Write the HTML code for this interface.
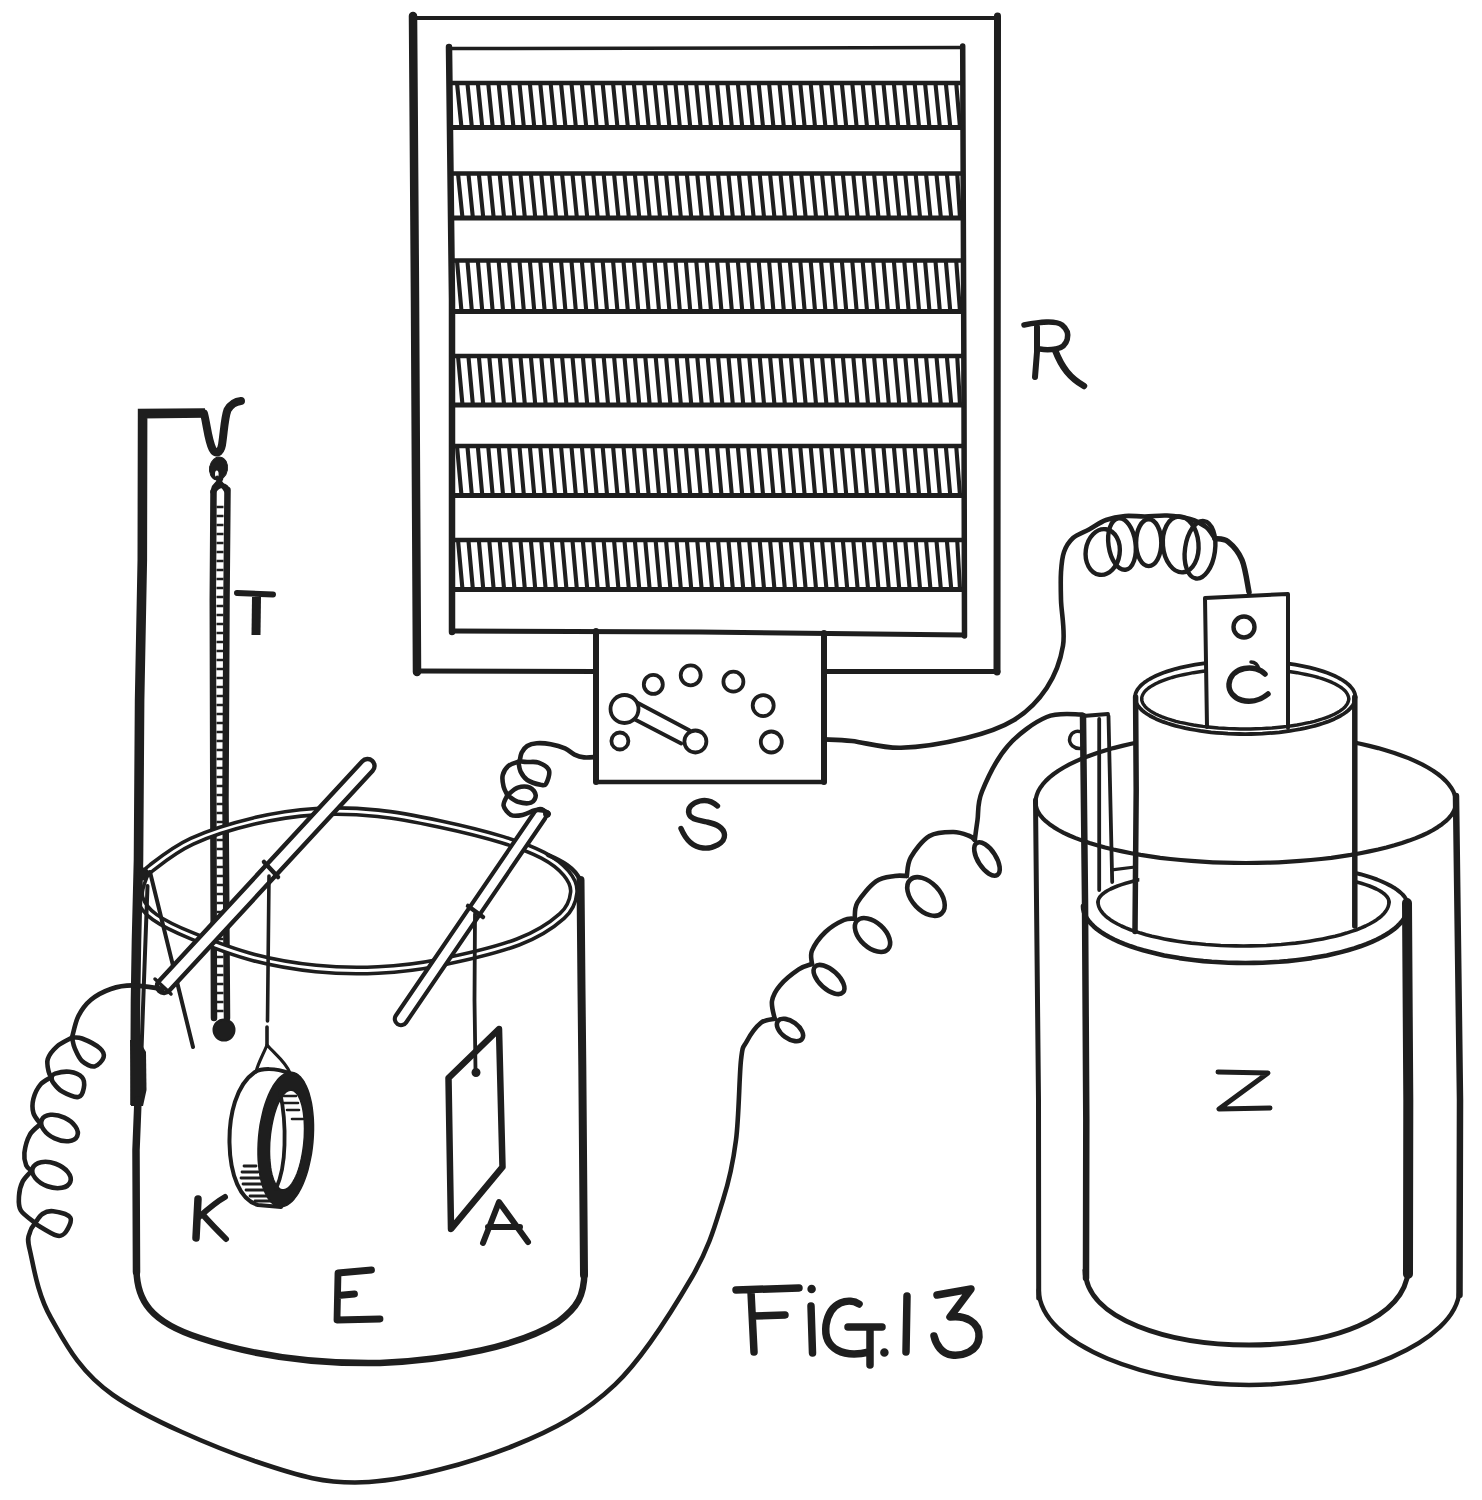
<!DOCTYPE html>
<html><head><meta charset="utf-8"><style>
html,body{margin:0;padding:0;background:#fff;}
svg{display:block;}
</style></head><body>
<svg width="1482" height="1500" viewBox="0 0 1482 1500">
<rect width="1482" height="1500" fill="#fff"/>
<g fill="none" stroke="#1e1e1e" stroke-linecap="round" stroke-linejoin="round">
<path d="M413 18 L998 18" stroke-width="3.8"/>
<path d="M596 671.5 L417 671" stroke-width="5"/>
<path d="M998 671.5 L824 671.5" stroke-width="5"/>
<path d="M413 16 L415 300 L417 672" stroke-width="8.5"/>
<path d="M997.5 16 L997 672" stroke-width="7"/>
<path d="M449 48.5 L963 47.5" stroke-width="3.5"/>
<path d="M452 631 L700 632 L964 635" stroke-width="5"/>
<path d="M449 47 L452 300 L452 632" stroke-width="6.5"/>
<path d="M962.7 46 L964 400 L964.5 636" stroke-width="5.5"/>
<path d="M452 83 L962 83" stroke-width="4.6"/>
<path d="M452 127.5 L962 127.5" stroke-width="5"/>
<path d="M457.0 83 L461.5 127.5 M467.4 83 L471.9 127.5 M477.8 83 L482.3 127.5 M488.2 83 L492.7 127.5 M498.6 83 L503.1 127.5 M509.0 83 L513.5 127.5 M519.4 83 L523.9 127.5 M529.8 83 L534.3 127.5 M540.2 83 L544.7 127.5 M550.6 83 L555.1 127.5 M561.0 83 L565.5 127.5 M571.4 83 L575.9 127.5 M581.8 83 L586.3 127.5 M592.2 83 L596.7 127.5 M602.6 83 L607.1 127.5 M613.0 83 L617.5 127.5 M623.4 83 L627.9 127.5 M633.8 83 L638.3 127.5 M644.2 83 L648.7 127.5 M654.6 83 L659.1 127.5 M665.0 83 L669.5 127.5 M675.4 83 L679.9 127.5 M685.8 83 L690.3 127.5 M696.2 83 L700.7 127.5 M706.6 83 L711.1 127.5 M717.0 83 L721.5 127.5 M727.4 83 L731.9 127.5 M737.8 83 L742.3 127.5 M748.2 83 L752.7 127.5 M758.6 83 L763.1 127.5 M769.0 83 L773.5 127.5 M779.4 83 L783.9 127.5 M789.8 83 L794.3 127.5 M800.2 83 L804.7 127.5 M810.6 83 L815.1 127.5 M821.0 83 L825.5 127.5 M831.4 83 L835.9 127.5 M841.8 83 L846.3 127.5 M852.2 83 L856.7 127.5 M862.6 83 L867.1 127.5 M873.0 83 L877.5 127.5 M883.4 83 L887.9 127.5 M893.8 83 L898.3 127.5 M904.2 83 L908.7 127.5 M914.6 83 L919.1 127.5 M925.0 83 L929.5 127.5 M935.4 83 L939.9 127.5 M945.8 83 L950.3 127.5 M956.2 83 L960.0 127.5 " stroke-width="4.1" stroke-linecap="butt"/>
<path d="M452 173.5 L962 173.5" stroke-width="4.6"/>
<path d="M452 218 L962 218" stroke-width="5"/>
<path d="M458.0 173.5 L462.5 218 M468.4 173.5 L472.9 218 M478.8 173.5 L483.3 218 M489.2 173.5 L493.7 218 M499.6 173.5 L504.1 218 M510.0 173.5 L514.5 218 M520.4 173.5 L524.9 218 M530.8 173.5 L535.3 218 M541.2 173.5 L545.7 218 M551.6 173.5 L556.1 218 M562.0 173.5 L566.5 218 M572.4 173.5 L576.9 218 M582.8 173.5 L587.3 218 M593.2 173.5 L597.7 218 M603.6 173.5 L608.1 218 M614.0 173.5 L618.5 218 M624.4 173.5 L628.9 218 M634.8 173.5 L639.3 218 M645.2 173.5 L649.7 218 M655.6 173.5 L660.1 218 M666.0 173.5 L670.5 218 M676.4 173.5 L680.9 218 M686.8 173.5 L691.3 218 M697.2 173.5 L701.7 218 M707.6 173.5 L712.1 218 M718.0 173.5 L722.5 218 M728.4 173.5 L732.9 218 M738.8 173.5 L743.3 218 M749.2 173.5 L753.7 218 M759.6 173.5 L764.1 218 M770.0 173.5 L774.5 218 M780.4 173.5 L784.9 218 M790.8 173.5 L795.3 218 M801.2 173.5 L805.7 218 M811.6 173.5 L816.1 218 M822.0 173.5 L826.5 218 M832.4 173.5 L836.9 218 M842.8 173.5 L847.3 218 M853.2 173.5 L857.7 218 M863.6 173.5 L868.1 218 M874.0 173.5 L878.5 218 M884.4 173.5 L888.9 218 M894.8 173.5 L899.3 218 M905.2 173.5 L909.7 218 M915.6 173.5 L920.1 218 M926.0 173.5 L930.5 218 M936.4 173.5 L940.9 218 M946.8 173.5 L951.3 218 M957.2 173.5 L960.0 218 " stroke-width="4.1" stroke-linecap="butt"/>
<path d="M452 260.5 L962 260.5" stroke-width="4.6"/>
<path d="M452 311.5 L962 311.5" stroke-width="5"/>
<path d="M457.0 260.5 L461.5 311.5 M467.4 260.5 L471.9 311.5 M477.8 260.5 L482.3 311.5 M488.2 260.5 L492.7 311.5 M498.6 260.5 L503.1 311.5 M509.0 260.5 L513.5 311.5 M519.4 260.5 L523.9 311.5 M529.8 260.5 L534.3 311.5 M540.2 260.5 L544.7 311.5 M550.6 260.5 L555.1 311.5 M561.0 260.5 L565.5 311.5 M571.4 260.5 L575.9 311.5 M581.8 260.5 L586.3 311.5 M592.2 260.5 L596.7 311.5 M602.6 260.5 L607.1 311.5 M613.0 260.5 L617.5 311.5 M623.4 260.5 L627.9 311.5 M633.8 260.5 L638.3 311.5 M644.2 260.5 L648.7 311.5 M654.6 260.5 L659.1 311.5 M665.0 260.5 L669.5 311.5 M675.4 260.5 L679.9 311.5 M685.8 260.5 L690.3 311.5 M696.2 260.5 L700.7 311.5 M706.6 260.5 L711.1 311.5 M717.0 260.5 L721.5 311.5 M727.4 260.5 L731.9 311.5 M737.8 260.5 L742.3 311.5 M748.2 260.5 L752.7 311.5 M758.6 260.5 L763.1 311.5 M769.0 260.5 L773.5 311.5 M779.4 260.5 L783.9 311.5 M789.8 260.5 L794.3 311.5 M800.2 260.5 L804.7 311.5 M810.6 260.5 L815.1 311.5 M821.0 260.5 L825.5 311.5 M831.4 260.5 L835.9 311.5 M841.8 260.5 L846.3 311.5 M852.2 260.5 L856.7 311.5 M862.6 260.5 L867.1 311.5 M873.0 260.5 L877.5 311.5 M883.4 260.5 L887.9 311.5 M893.8 260.5 L898.3 311.5 M904.2 260.5 L908.7 311.5 M914.6 260.5 L919.1 311.5 M925.0 260.5 L929.5 311.5 M935.4 260.5 L939.9 311.5 M945.8 260.5 L950.3 311.5 M956.2 260.5 L960.0 311.5 " stroke-width="4.1" stroke-linecap="butt"/>
<path d="M452 356 L962 356" stroke-width="4.6"/>
<path d="M452 405 L962 405" stroke-width="5"/>
<path d="M458.0 356 L462.5 405 M468.4 356 L472.9 405 M478.8 356 L483.3 405 M489.2 356 L493.7 405 M499.6 356 L504.1 405 M510.0 356 L514.5 405 M520.4 356 L524.9 405 M530.8 356 L535.3 405 M541.2 356 L545.7 405 M551.6 356 L556.1 405 M562.0 356 L566.5 405 M572.4 356 L576.9 405 M582.8 356 L587.3 405 M593.2 356 L597.7 405 M603.6 356 L608.1 405 M614.0 356 L618.5 405 M624.4 356 L628.9 405 M634.8 356 L639.3 405 M645.2 356 L649.7 405 M655.6 356 L660.1 405 M666.0 356 L670.5 405 M676.4 356 L680.9 405 M686.8 356 L691.3 405 M697.2 356 L701.7 405 M707.6 356 L712.1 405 M718.0 356 L722.5 405 M728.4 356 L732.9 405 M738.8 356 L743.3 405 M749.2 356 L753.7 405 M759.6 356 L764.1 405 M770.0 356 L774.5 405 M780.4 356 L784.9 405 M790.8 356 L795.3 405 M801.2 356 L805.7 405 M811.6 356 L816.1 405 M822.0 356 L826.5 405 M832.4 356 L836.9 405 M842.8 356 L847.3 405 M853.2 356 L857.7 405 M863.6 356 L868.1 405 M874.0 356 L878.5 405 M884.4 356 L888.9 405 M894.8 356 L899.3 405 M905.2 356 L909.7 405 M915.6 356 L920.1 405 M926.0 356 L930.5 405 M936.4 356 L940.9 405 M946.8 356 L951.3 405 M957.2 356 L960.0 405 " stroke-width="4.1" stroke-linecap="butt"/>
<path d="M452 446 L962 446" stroke-width="4.6"/>
<path d="M452 495.5 L962 495.5" stroke-width="5"/>
<path d="M457.0 446 L461.5 495.5 M467.4 446 L471.9 495.5 M477.8 446 L482.3 495.5 M488.2 446 L492.7 495.5 M498.6 446 L503.1 495.5 M509.0 446 L513.5 495.5 M519.4 446 L523.9 495.5 M529.8 446 L534.3 495.5 M540.2 446 L544.7 495.5 M550.6 446 L555.1 495.5 M561.0 446 L565.5 495.5 M571.4 446 L575.9 495.5 M581.8 446 L586.3 495.5 M592.2 446 L596.7 495.5 M602.6 446 L607.1 495.5 M613.0 446 L617.5 495.5 M623.4 446 L627.9 495.5 M633.8 446 L638.3 495.5 M644.2 446 L648.7 495.5 M654.6 446 L659.1 495.5 M665.0 446 L669.5 495.5 M675.4 446 L679.9 495.5 M685.8 446 L690.3 495.5 M696.2 446 L700.7 495.5 M706.6 446 L711.1 495.5 M717.0 446 L721.5 495.5 M727.4 446 L731.9 495.5 M737.8 446 L742.3 495.5 M748.2 446 L752.7 495.5 M758.6 446 L763.1 495.5 M769.0 446 L773.5 495.5 M779.4 446 L783.9 495.5 M789.8 446 L794.3 495.5 M800.2 446 L804.7 495.5 M810.6 446 L815.1 495.5 M821.0 446 L825.5 495.5 M831.4 446 L835.9 495.5 M841.8 446 L846.3 495.5 M852.2 446 L856.7 495.5 M862.6 446 L867.1 495.5 M873.0 446 L877.5 495.5 M883.4 446 L887.9 495.5 M893.8 446 L898.3 495.5 M904.2 446 L908.7 495.5 M914.6 446 L919.1 495.5 M925.0 446 L929.5 495.5 M935.4 446 L939.9 495.5 M945.8 446 L950.3 495.5 M956.2 446 L960.0 495.5 " stroke-width="4.1" stroke-linecap="butt"/>
<path d="M452 540 L962 540" stroke-width="4.6"/>
<path d="M452 589.5 L962 589.5" stroke-width="5"/>
<path d="M458.0 540 L462.5 589.5 M468.4 540 L472.9 589.5 M478.8 540 L483.3 589.5 M489.2 540 L493.7 589.5 M499.6 540 L504.1 589.5 M510.0 540 L514.5 589.5 M520.4 540 L524.9 589.5 M530.8 540 L535.3 589.5 M541.2 540 L545.7 589.5 M551.6 540 L556.1 589.5 M562.0 540 L566.5 589.5 M572.4 540 L576.9 589.5 M582.8 540 L587.3 589.5 M593.2 540 L597.7 589.5 M603.6 540 L608.1 589.5 M614.0 540 L618.5 589.5 M624.4 540 L628.9 589.5 M634.8 540 L639.3 589.5 M645.2 540 L649.7 589.5 M655.6 540 L660.1 589.5 M666.0 540 L670.5 589.5 M676.4 540 L680.9 589.5 M686.8 540 L691.3 589.5 M697.2 540 L701.7 589.5 M707.6 540 L712.1 589.5 M718.0 540 L722.5 589.5 M728.4 540 L732.9 589.5 M738.8 540 L743.3 589.5 M749.2 540 L753.7 589.5 M759.6 540 L764.1 589.5 M770.0 540 L774.5 589.5 M780.4 540 L784.9 589.5 M790.8 540 L795.3 589.5 M801.2 540 L805.7 589.5 M811.6 540 L816.1 589.5 M822.0 540 L826.5 589.5 M832.4 540 L836.9 589.5 M842.8 540 L847.3 589.5 M853.2 540 L857.7 589.5 M863.6 540 L868.1 589.5 M874.0 540 L878.5 589.5 M884.4 540 L888.9 589.5 M894.8 540 L899.3 589.5 M905.2 540 L909.7 589.5 M915.6 540 L920.1 589.5 M926.0 540 L930.5 589.5 M936.4 540 L940.9 589.5 M946.8 540 L951.3 589.5 M957.2 540 L960.0 589.5 " stroke-width="4.1" stroke-linecap="butt"/>
<path d="M596 631 L596 782" stroke-width="6"/>
<path d="M824 633 L824 782" stroke-width="6"/>
<path d="M596 782 L824 782" stroke-width="4.5"/>
<circle cx="653.3" cy="684.4" r="9.5" stroke-width="3.8"/>
<circle cx="690.7" cy="675.3" r="10" stroke-width="3.8"/>
<circle cx="733.4" cy="681.7" r="10" stroke-width="3.8"/>
<circle cx="763.2" cy="705.6" r="10.5" stroke-width="3.8"/>
<circle cx="771.3" cy="742" r="10.5" stroke-width="3.8"/>
<circle cx="619.9" cy="741" r="8.5" stroke-width="3.8"/>
<path d="M636 702 L689.3 730.3 M634 719 L681.2 743.5" stroke-width="3.8"/>
<circle cx="624.5" cy="709" r="14" stroke-width="3.8" fill="#fff"/>
<circle cx="695.4" cy="741.5" r="11" stroke-width="3.8" fill="#fff"/>
<path d="M204 413.5 C207 425 208 440 212.5 449 C215.5 455 220.5 453 222 445 C224 432 224.5 418 227.5 410 C231 404 236 401.5 241 401" stroke-width="8"/>
<ellipse cx="218.5" cy="468.5" rx="9" ry="11.5" transform="rotate(10 218.5 468.5)" stroke-width="1" fill="#1e1e1e"/>
<ellipse cx="216.8" cy="474" rx="1.8" ry="3.5" fill="#fff" stroke="none"/>
<path d="M217 478 L223 486 L227 492 M221 479 L214 487 L212.5 492" stroke-width="4.5"/>
<path d="M213.5 492 L212.8 600 L213.3 800 L214 1018" stroke-width="6.5"/>
<path d="M227.5 490 L226.5 600 L225.5 800 L227 1018" stroke-width="6.5"/>
<path d="M213.5 492 Q218 484 224 486 Q228 488 227.5 492" stroke-width="5"/>
<path d="M216.5 507.0 L223.5 507.0 M216.5 516.0 L223.5 516.0 M216.5 525.0 L223.5 525.0 M216.5 534.0 L223.5 534.0 M216.5 543.0 L223.5 543.0 M216.5 552.0 L223.5 552.0 M216.5 561.0 L223.5 561.0 M216.5 570.0 L223.5 570.0 M216.5 579.0 L223.5 579.0 M216.5 588.0 L223.5 588.0 M216.5 597.0 L223.5 597.0 M216.5 606.0 L223.5 606.0 M216.5 615.0 L223.5 615.0 M216.5 624.0 L223.5 624.0 M216.5 633.0 L223.5 633.0 M216.5 642.0 L223.5 642.0 M216.5 651.0 L223.5 651.0 M216.5 660.0 L223.5 660.0 M216.5 669.0 L223.5 669.0 M216.5 678.0 L223.5 678.0 M216.5 687.0 L223.5 687.0 M216.5 696.0 L223.5 696.0 M216.5 705.0 L223.5 705.0 M216.5 714.0 L223.5 714.0 M216.5 723.0 L223.5 723.0 M216.5 732.0 L223.5 732.0 M216.5 741.0 L223.5 741.0 M216.5 750.0 L223.5 750.0 M216.5 759.0 L223.5 759.0 M216.5 768.0 L223.5 768.0 M216.5 777.0 L223.5 777.0 M216.5 786.0 L223.5 786.0 M216.5 795.0 L223.5 795.0 M216.5 804.0 L223.5 804.0 M216.5 813.0 L223.5 813.0 M216.5 822.0 L223.5 822.0 M216.5 831.0 L223.5 831.0 M216.5 840.0 L223.5 840.0 M216.5 849.0 L223.5 849.0 M216.5 858.0 L223.5 858.0 M216.5 867.0 L223.5 867.0 M216.5 876.0 L223.5 876.0 M216.5 885.0 L223.5 885.0 M216.5 894.0 L223.5 894.0 M216.5 903.0 L223.5 903.0 M216.5 912.0 L223.5 912.0 M216.5 921.0 L223.5 921.0 M216.5 930.0 L223.5 930.0 M216.5 939.0 L223.5 939.0 M216.5 948.0 L223.5 948.0 M216.5 957.0 L223.5 957.0 M216.5 966.0 L223.5 966.0 M216.5 975.0 L223.5 975.0 M216.5 984.0 L223.5 984.0 M216.5 993.0 L223.5 993.0 M216.5 1002.0 L223.5 1002.0 M216.5 1011.0 L223.5 1011.0 " stroke-width="2.6" stroke-linecap="butt"/>
<circle cx="224" cy="1030" r="10.5" stroke-width="2" fill="#1e1e1e"/>
<path d="M151.7 867.6 C160.0 861.1 174.9 849.0 192.0 841.2 C209.1 833.4 233.3 825.9 254.0 821.0 C274.7 816.1 295.3 813.0 316.0 811.7 C336.7 810.4 357.3 811.2 378.0 813.3 C398.7 815.4 419.7 819.7 440.4 824.1 C461.1 828.5 485.3 834.5 502.4 839.7 C519.5 844.9 532.2 849.7 542.8 855.2 C553.4 860.8 560.8 866.8 566.0 873.0 C571.2 879.2 574.5 885.2 573.8 892.4 C573.1 899.6 571.3 907.7 562.0 916.0 C552.7 924.3 538.3 934.3 518.0 942.0 C497.7 949.7 463.7 957.6 440.4 962.3 C417.1 967.0 398.7 969.0 378.0 970.0 C357.3 971.0 336.7 970.6 316.0 968.5 C295.3 966.4 274.7 963.0 254.0 957.6 C233.3 952.2 208.5 942.6 192.0 935.9 C175.5 929.2 163.5 923.4 154.8 917.2 C146.1 911.0 141.9 904.8 139.8 898.6 C137.7 892.4 140.4 885.2 142.4 880.0 C144.4 874.8 143.4 874.1 151.7 867.6 Z" stroke-width="10"/>
<path d="M151.7 867.6 C160.0 861.1 174.9 849.0 192.0 841.2 C209.1 833.4 233.3 825.9 254.0 821.0 C274.7 816.1 295.3 813.0 316.0 811.7 C336.7 810.4 357.3 811.2 378.0 813.3 C398.7 815.4 419.7 819.7 440.4 824.1 C461.1 828.5 485.3 834.5 502.4 839.7 C519.5 844.9 532.2 849.7 542.8 855.2 C553.4 860.8 560.8 866.8 566.0 873.0 C571.2 879.2 574.5 885.2 573.8 892.4 C573.1 899.6 571.3 907.7 562.0 916.0 C552.7 924.3 538.3 934.3 518.0 942.0 C497.7 949.7 463.7 957.6 440.4 962.3 C417.1 967.0 398.7 969.0 378.0 970.0 C357.3 971.0 336.7 970.6 316.0 968.5 C295.3 966.4 274.7 963.0 254.0 957.6 C233.3 952.2 208.5 942.6 192.0 935.9 C175.5 929.2 163.5 923.4 154.8 917.2 C146.1 911.0 141.9 904.8 139.8 898.6 C137.7 892.4 140.4 885.2 142.4 880.0 C144.4 874.8 143.4 874.1 151.7 867.6 Z" stroke="#fff" stroke-width="2.8"/>
<path d="M135 1105 L135.5 1000 L136.5 940 L138.5 860 L139.6 700 L142.3 560 L142.6 413.6 L205 413" stroke-width="9.6" stroke-linejoin="miter" stroke-linecap="butt"/>
<path d="M147.5 886 L144 980 L141.5 1050" stroke-width="4"/>
<path d="M130 1040 L139 1040 L146 1052 L146.5 1090 L143 1106 L131 1106 Z" fill="#1e1e1e" stroke="none"/>
<path d="M138 1100 L136 1150 L136.5 1272" stroke-width="7.5"/>
<path d="M548 855 C562 861 575 868 580 880" stroke-width="4.5"/>
<path d="M580.5 880 L581.5 990 L582.3 1065 L584 1275" stroke-width="8"/>
<path d="M136.5 1270 C137 1300 150 1322 200 1338 C260 1358 320 1364 380 1363 C450 1360 520 1346 558 1322 C578 1307 584 1296 584.5 1272" stroke-width="6.5"/>
<path d="M138 874 L150 872 M150 872 L193 1047" stroke-width="4"/>
<path d="M143 874 m-5 0 a5 5 0 1 0 10 0 a5 5 0 1 0 -10 0" stroke-width="3" fill="#1e1e1e"/>
<line x1="164" y1="986" x2="367.5" y2="766" stroke-width="18.5" stroke-linecap="round"/>
<line x1="164" y1="986" x2="367.5" y2="766" stroke-width="9.7" stroke="#fff" stroke-linecap="round"/>
<line x1="401" y1="1019" x2="540" y2="815" stroke-width="16.5" stroke-linecap="round"/>
<line x1="401" y1="1019" x2="540" y2="815" stroke-width="8.3" stroke="#fff" stroke-linecap="round"/>
<path d="M155 979 L171 994" stroke-width="3.5"/>
<path d="M264 862 L278 877" stroke-width="4.5"/>
<path d="M468 906 L483 917" stroke-width="4.5"/>
<path d="M269 876 L267.5 1021 M267 1027 L267 1045" stroke-width="3.6"/>
<path d="M267 1045 C263 1055 258 1063 256 1072 M267 1045 C276 1055 286 1062 290 1073" stroke-width="3.2"/>
<path d="M289 1073 C275 1068 262 1068 255 1072 C236 1085 229 1115 229.5 1143 C230 1175 240 1200 258 1205 L281 1207" stroke-width="4"/>
<path d="M244 1166 L256 1166 M242 1172 L258 1172 M241 1178 L261 1178 M243 1184 L263 1184 M246 1190 L266 1190 M250 1196 L268 1196 M255 1201 L272 1201" stroke-width="2.8"/>
<path d="M312.9 1141.9 L312.3 1147.7 L311.5 1153.5 L310.4 1159.2 L309.2 1164.7 L307.9 1170.1 L306.3 1175.2 L304.6 1180.0 L302.8 1184.5 L300.8 1188.7 L298.7 1192.5 L296.5 1195.9 L294.2 1198.9 L291.9 1201.4 L289.5 1203.5 L287.1 1205.1 L284.7 1206.1 L282.3 1206.7 L279.9 1206.7 L277.5 1206.3 L275.2 1205.3 L273.0 1203.8 L270.9 1201.9 L268.9 1199.4 L267.1 1196.5 L265.4 1193.2 L263.8 1189.5 L262.4 1185.4 L261.2 1180.9 L260.1 1176.1 L259.3 1171.1 L258.7 1165.8 L258.2 1160.3 L258.0 1154.6 L258.0 1148.8 L258.2 1143.0 L258.6 1137.1 L259.2 1131.3 L260.0 1125.5 L261.1 1119.8 L262.3 1114.3 L263.6 1108.9 L265.2 1103.8 L266.9 1099.0 L268.7 1094.5 L270.7 1090.3 L272.8 1086.5 L275.0 1083.1 L277.3 1080.1 L279.6 1077.6 L282.0 1075.5 L284.4 1073.9 L286.8 1072.9 L289.2 1072.3 L291.6 1072.3 L294.0 1072.7 L296.3 1073.7 L298.5 1075.2 L300.6 1077.1 L302.6 1079.6 L304.4 1082.5 L306.1 1085.8 L307.7 1089.5 L309.1 1093.6 L310.3 1098.1 L311.4 1102.9 L312.2 1107.9 L312.8 1113.2 L313.3 1118.7 L313.5 1124.4 L313.5 1130.2 L313.3 1136.0 L312.9 1141.9 Z M303.9 1141.5 L303.5 1145.8 L302.9 1150.1 L302.2 1154.3 L301.4 1158.4 L300.5 1162.4 L299.5 1166.2 L298.4 1169.8 L297.2 1173.2 L295.9 1176.3 L294.5 1179.1 L293.1 1181.7 L291.7 1183.9 L290.2 1185.8 L288.7 1187.3 L287.2 1188.5 L285.6 1189.3 L284.1 1189.7 L282.6 1189.8 L281.2 1189.5 L279.8 1188.8 L278.4 1187.7 L277.1 1186.3 L275.9 1184.5 L274.8 1182.4 L273.7 1180.0 L272.8 1177.2 L271.9 1174.2 L271.2 1170.9 L270.6 1167.4 L270.2 1163.6 L269.8 1159.7 L269.6 1155.6 L269.5 1151.5 L269.6 1147.2 L269.7 1142.9 L270.1 1138.5 L270.5 1134.2 L271.1 1129.9 L271.8 1125.7 L272.6 1121.6 L273.5 1117.6 L274.5 1113.8 L275.6 1110.2 L276.8 1106.8 L278.1 1103.7 L279.5 1100.9 L280.9 1098.3 L282.3 1096.1 L283.8 1094.2 L285.3 1092.7 L286.8 1091.5 L288.4 1090.7 L289.9 1090.3 L291.4 1090.2 L292.8 1090.5 L294.2 1091.2 L295.6 1092.3 L296.9 1093.7 L298.1 1095.5 L299.2 1097.6 L300.3 1100.0 L301.2 1102.8 L302.1 1105.8 L302.8 1109.1 L303.4 1112.6 L303.8 1116.4 L304.2 1120.3 L304.4 1124.4 L304.5 1128.5 L304.4 1132.8 L304.3 1137.1 L303.9 1141.5 Z " fill="#1e1e1e" fill-rule="evenodd" stroke="#1e1e1e" stroke-width="1.5"/>
<path d="M280 1092 C284 1110 285 1130 284.5 1145 C284 1165 280 1180 276 1189" stroke-width="3.8"/>
<path d="M282 1096 L296 1096 M284 1103 L298 1103 M287 1110 L299 1110 M292 1119 L303 1119" stroke-width="2.6"/>
<path d="M475 914 L474.5 1000 L475.5 1070" stroke-width="3.8"/>
<circle cx="476" cy="1072.5" r="3.5" stroke-width="2" fill="#1e1e1e"/>
<path d="M499 1029 L448.5 1078 L451 1229 L502.5 1167 L499 1029 Z" stroke-width="6.5"/>
<path d="M1024 325 C1040 322 1055 320 1062 325 C1072 333 1068 347 1056 349 C1050 350 1045 350 1040 349" stroke-width="5.5"/>
<path d="M1037 327 L1037 352 L1035 377" stroke-width="6"/>
<path d="M1055 350 C1062 368 1070 378 1084 386" stroke-width="6.5"/>
<path d="M717.5 806 C712 801 706 799.5 700 801 C692 803 687 808 689 814 C691 820 700 820 707 822 C716 824 724 827 724.5 835 C725 843 713 849 703 848 C692 847 685 838 681 828.5" stroke-width="5.4"/>
<path d="M237 593 L273 594.5" stroke-width="6"/>
<path d="M256.5 597 L256 635" stroke-width="9" stroke-linecap="butt"/>
<path d="M198 1199 L196 1238" stroke-width="7.5"/>
<path d="M225 1197 C216 1202 208 1209 199 1217 M204 1216 C211 1224 218 1231 226 1239" stroke-width="6"/>
<path d="M483 1243 L499 1202 L528 1242 M488 1227 L520 1227" stroke-width="6"/>
<path d="M371.5 1270 L338 1273 L337 1320 L380 1319 M338 1295.5 L354.5 1294" stroke-width="6.8"/>
<path d="M1218 1072 L1268 1073 L1219 1109 L1270 1108" stroke-width="5"/>
<path d="M736 1290 L799 1288 M751 1292 L754 1352 M753 1316 L785 1315" stroke-width="7.5"/>
<circle cx="811.6" cy="1289" r="3" stroke-width="2.5" fill="#1e1e1e"/>
<path d="M811 1306 L812.5 1353" stroke-width="7.5"/>
<path d="M859 1304 C850 1298 830 1300 826 1325 C823 1350 845 1358 869 1352 M848 1327 L882 1327 M870 1327 L870 1365" stroke-width="7.5"/>
<circle cx="884.4" cy="1352.6" r="3" stroke-width="2.5" fill="#1e1e1e"/>
<path d="M907 1296 L906 1352" stroke-width="7.5"/>
<path d="M937 1295 L971 1289 L950 1317 C965 1315 980 1322 979 1337 C978 1352 962 1356 952 1355 C942 1354 936 1345 934 1336" stroke-width="7.5"/>
<path d="M1035.5 802.5 L1035.8 798.8 L1036.7 795.2 L1038.1 791.5 L1040.1 787.9 L1042.7 784.4 L1045.8 780.9 L1049.5 777.4 L1053.7 774.0 L1058.4 770.7 L1063.7 767.5 L1069.4 764.4 L1075.7 761.4 L1082.4 758.4 L1089.5 755.7 L1097.1 753.0 L1105.1 750.5 L1113.4 748.1 L1122.2 745.9 L1131.2 743.8 L1140.6 741.9 L1150.3 740.1 L1160.2 738.6 L1170.4 737.1 L1180.8 735.9 L1191.3 734.9 L1202.0 734.0 L1212.9 733.4 L1223.8 732.9 L1234.7 732.6 L1245.8 732.5 L1256.8 732.6 L1267.7 732.9 L1278.6 733.4 L1289.5 734.0 L1300.2 734.9 L1310.7 735.9 L1321.1 737.1 L1331.3 738.6 L1341.2 740.1 L1350.9 741.9 L1360.3 743.8 L1369.3 745.9 L1378.1 748.1 L1386.4 750.5 L1394.4 753.0 L1402.0 755.7 L1409.1 758.4 L1415.8 761.4 L1422.1 764.4 L1427.8 767.5 L1433.1 770.7 L1437.8 774.0 L1442.0 777.4 L1445.7 780.9 L1448.8 784.4 L1451.4 787.9 L1453.4 791.5 L1454.8 795.2 L1455.7 798.8 L1456.0 802.5 " stroke-width="4.2"/>
<path d="M1035.5 800 L1038.5 1100 L1038.7 1298" stroke-width="5"/>
<path d="M1456 796 L1460 1100 L1459.5 1295" stroke-width="6.5"/>
<path d="M1038.7 1290 C1040 1346 1150 1385 1249 1385 C1350 1385 1457 1343 1459.5 1290" stroke-width="4.5"/>
<path d="M1245.5 861.0 L1254.0 861.1 L1262.5 861.2 L1270.9 861.6 L1279.3 862.0 L1287.6 862.5 L1295.7 863.2 L1303.7 864.0 L1311.6 864.9 L1319.3 865.9 L1326.8 867.0 L1334.0 868.3 L1341.0 869.6 L1347.8 871.0 L1354.2 872.6 L1360.4 874.2 L1366.3 875.9 L1371.8 877.7 L1377.0 879.5 L1381.8 881.5 L1386.2 883.5 L1390.3 885.6 L1394.0 887.7 L1397.2 889.9 L1400.0 892.1 L1402.5 894.4 L1404.4 896.6 L1406.0 899.0 L1407.1 901.3 L1407.8 903.6 L1408.0 906.0 " stroke-width="4"/>
<path d="M1098.0 902.0 L1098.2 900.3 L1098.8 898.7 L1099.8 897.0 L1101.2 895.3 L1103.0 893.7 L1105.1 892.1 L1107.7 890.5 L1110.6 889.0 L1113.9 887.5 L1117.5 886.0 L1121.5 884.6 L1125.8 883.2 L1130.4 881.9 L1135.4 880.6 L1140.6 879.4 L1146.1 878.2 L1151.9 877.1 L1158.0 876.1 L1164.3 875.2 L1170.8 874.3 L1177.4 873.5 L1184.3 872.8 L1191.4 872.1 L1198.5 871.6 L1205.8 871.1 L1213.2 870.7 L1220.7 870.4 L1228.3 870.2 L1235.9 870.0 L1243.5 870.0 L1251.1 870.0 L1258.7 870.2 L1266.3 870.4 L1273.8 870.7 L1281.2 871.1 L1288.5 871.6 L1295.6 872.1 L1302.7 872.8 L1309.6 873.5 L1316.2 874.3 L1322.7 875.2 L1329.0 876.1 L1335.1 877.1 L1340.9 878.2 L1346.4 879.4 L1351.6 880.6 L1356.6 881.9 L1361.2 883.2 L1365.5 884.6 L1369.5 886.0 L1373.1 887.5 L1376.4 889.0 L1379.3 890.5 L1381.9 892.1 L1384.0 893.7 L1385.8 895.3 L1387.2 897.0 L1388.2 898.7 L1388.8 900.3 L1389.0 902.0 " stroke-width="3.6"/>
<path d="M1083 716 L1085 900 L1086.3 1120 L1086 1278" stroke-width="6.5"/>
<path d="M1407 903 L1408.3 1100 L1408 1274" stroke-width="10"/>
<path d="M1085 1270 C1086 1320 1170 1345 1249 1345 C1330 1345 1406 1320 1408.5 1268" stroke-width="5"/>
<path d="M1099.2 719 L1099.2 890" stroke-width="3.8"/>
<path d="M1108.5 716 L1112.2 882" stroke-width="3.8"/>
<path d="M1083 716 L1108 714" stroke-width="3.8"/>
<path d="M1112 869.9 L1135 867" stroke-width="3.2"/>
<path d="M1083 748 C1074 750 1068 744 1070 737 C1072 731 1078 730 1083 733" stroke-width="3.5"/>
<path d="M1135.0 697.4 L1135.2 695.4 L1135.6 693.5 L1136.4 691.6 L1137.4 689.7 L1138.8 687.9 L1140.4 686.0 L1142.3 684.2 L1144.5 682.4 L1147.0 680.7 L1149.8 679.0 L1152.8 677.4 L1156.0 675.8 L1159.6 674.3 L1163.3 672.8 L1167.3 671.4 L1171.5 670.1 L1175.8 668.8 L1180.4 667.7 L1185.2 666.6 L1190.1 665.6 L1195.2 664.7 L1200.4 663.8 L1205.7 663.1 L1211.1 662.4 L1216.7 661.9 L1222.3 661.5 L1228.0 661.1 L1233.7 660.9 L1239.4 660.7 L1245.2 660.6 L1251.0 660.7 L1256.7 660.9 L1262.4 661.1 L1268.1 661.5 L1273.7 661.9 L1279.3 662.4 L1284.7 663.1 L1290.0 663.8 L1295.2 664.7 L1300.3 665.6 L1305.2 666.6 L1310.0 667.7 L1314.6 668.8 L1318.9 670.1 L1323.1 671.4 L1327.1 672.8 L1330.8 674.3 L1334.4 675.8 L1337.6 677.4 L1340.6 679.0 L1343.4 680.7 L1345.9 682.4 L1348.1 684.2 L1350.0 686.0 L1351.6 687.9 L1353.0 689.7 L1354.0 691.6 L1354.8 693.5 L1355.2 695.4 L1355.4 697.4 L1354.8 931.4 L1351.6 931.4 L1346.4 933.1 L1340.9 934.7 L1335.1 936.2 L1329.0 937.6 L1322.7 938.9 L1316.2 940.1 L1309.6 941.2 L1302.7 942.2 L1295.6 943.1 L1288.5 943.8 L1281.2 944.5 L1273.8 945.0 L1266.3 945.5 L1258.7 945.8 L1251.1 945.9 L1243.5 946.0 L1235.9 945.9 L1228.3 945.8 L1220.7 945.5 L1213.2 945.0 L1205.8 944.5 L1198.5 943.8 L1191.4 943.1 L1184.3 942.2 L1177.4 941.2 L1170.8 940.1 L1164.3 938.9 L1158.0 937.6 L1151.9 936.2 L1146.1 934.7 L1140.6 933.1 Z" fill="#fff" stroke="none"/>
<path d="M1135.0 697.4 L1135.2 695.4 L1135.6 693.5 L1136.4 691.6 L1137.4 689.7 L1138.8 687.9 L1140.4 686.0 L1142.3 684.2 L1144.5 682.4 L1147.0 680.7 L1149.8 679.0 L1152.8 677.4 L1156.0 675.8 L1159.6 674.3 L1163.3 672.8 L1167.3 671.4 L1171.5 670.1 L1175.8 668.8 L1180.4 667.7 L1185.2 666.6 L1190.1 665.6 L1195.2 664.7 L1200.4 663.8 L1205.7 663.1 L1211.1 662.4 L1216.7 661.9 L1222.3 661.5 L1228.0 661.1 L1233.7 660.9 L1239.4 660.7 L1245.2 660.6 L1251.0 660.7 L1256.7 660.9 L1262.4 661.1 L1268.1 661.5 L1273.7 661.9 L1279.3 662.4 L1284.7 663.1 L1290.0 663.8 L1295.2 664.7 L1300.3 665.6 L1305.2 666.6 L1310.0 667.7 L1314.6 668.8 L1318.9 670.1 L1323.1 671.4 L1327.1 672.8 L1330.8 674.3 L1334.4 675.8 L1337.6 677.4 L1340.6 679.0 L1343.4 680.7 L1345.9 682.4 L1348.1 684.2 L1350.0 686.0 L1351.6 687.9 L1353.0 689.7 L1354.0 691.6 L1354.8 693.5 L1355.2 695.4 L1355.4 697.4 " stroke-width="3.8"/>
<path d="M1141.7 698.9 L1141.8 697.3 L1142.3 695.7 L1143.0 694.1 L1144.0 692.6 L1145.2 691.0 L1146.8 689.5 L1148.6 688.0 L1150.6 686.6 L1153.0 685.2 L1155.6 683.8 L1158.4 682.4 L1161.5 681.1 L1164.8 679.9 L1168.3 678.7 L1172.0 677.5 L1175.9 676.4 L1180.1 675.4 L1184.4 674.5 L1188.8 673.6 L1193.5 672.7 L1198.2 672.0 L1203.1 671.3 L1208.1 670.7 L1213.2 670.2 L1218.4 669.7 L1223.7 669.4 L1229.0 669.1 L1234.4 668.9 L1239.8 668.7 L1245.2 668.7 L1250.6 668.7 L1256.0 668.9 L1261.4 669.1 L1266.7 669.4 L1272.0 669.7 L1277.2 670.2 L1282.3 670.7 L1287.3 671.3 L1292.2 672.0 L1297.0 672.7 L1301.6 673.6 L1306.0 674.5 L1310.3 675.4 L1314.5 676.4 L1318.4 677.5 L1322.1 678.7 L1325.6 679.9 L1328.9 681.1 L1332.0 682.4 L1334.8 683.8 L1337.4 685.2 L1339.8 686.6 L1341.8 688.0 L1343.6 689.5 L1345.2 691.0 L1346.4 692.6 L1347.4 694.1 L1348.1 695.7 L1348.6 697.3 L1348.7 698.9 " stroke-width="3.4"/>
<path d="M1207 727 L1205 598 L1288 594 L1288 728 Z" fill="#fff" stroke="none"/>
<path d="M1207 727 L1205 598 L1288 594 L1288 728" stroke-width="4"/>
<circle cx="1244" cy="627" r="10.5" stroke-width="4.4"/>
<path d="M1265 674 C1256 664 1231 666 1229 684 C1228 700 1251 708 1268 694" stroke-width="5.5"/>
<path d="M1251 662 Q1257 662 1259.5 670" stroke-width="3.5"/>
<path d="M1355.4 697.4 L1355.2 699.3 L1354.8 701.2 L1354.0 703.1 L1353.0 705.0 L1351.6 706.8 L1350.0 708.7 L1348.1 710.5 L1345.9 712.3 L1343.4 714.0 L1340.6 715.7 L1337.6 717.3 L1334.4 718.9 L1330.8 720.4 L1327.1 721.9 L1323.1 723.3 L1318.9 724.6 L1314.6 725.9 L1310.0 727.0 L1305.2 728.1 L1300.3 729.1 L1295.2 730.0 L1290.0 730.9 L1284.7 731.6 L1279.3 732.3 L1273.7 732.8 L1268.1 733.2 L1262.4 733.6 L1256.7 733.8 L1251.0 734.0 L1245.2 734.1 L1239.4 734.0 L1233.7 733.8 L1228.0 733.6 L1222.3 733.2 L1216.7 732.8 L1211.1 732.3 L1205.7 731.6 L1200.4 730.9 L1195.2 730.0 L1190.1 729.1 L1185.2 728.1 L1180.4 727.0 L1175.8 725.9 L1171.5 724.6 L1167.3 723.3 L1163.3 721.9 L1159.6 720.4 L1156.0 718.9 L1152.8 717.3 L1149.8 715.7 L1147.0 714.0 L1144.5 712.3 L1142.3 710.5 L1140.4 708.7 L1138.8 706.8 L1137.4 705.0 L1136.4 703.1 L1135.6 701.2 L1135.2 699.3 L1135.0 697.4 " stroke-width="3.8"/>
<path d="M1348.7 698.9 L1348.6 700.4 L1348.1 702.0 L1347.4 703.6 L1346.4 705.1 L1345.2 706.7 L1343.6 708.2 L1341.8 709.7 L1339.8 711.1 L1337.4 712.5 L1334.8 713.9 L1332.0 715.3 L1328.9 716.6 L1325.6 717.8 L1322.1 719.0 L1318.4 720.2 L1314.5 721.3 L1310.3 722.3 L1306.0 723.2 L1301.6 724.1 L1297.0 725.0 L1292.2 725.7 L1287.3 726.4 L1282.3 727.0 L1277.2 727.5 L1272.0 728.0 L1266.7 728.3 L1261.4 728.6 L1256.0 728.8 L1250.6 729.0 L1245.2 729.0 L1239.8 729.0 L1234.4 728.8 L1229.0 728.6 L1223.7 728.3 L1218.4 728.0 L1213.2 727.5 L1208.1 727.0 L1203.1 726.4 L1198.2 725.7 L1193.5 725.0 L1188.8 724.1 L1184.4 723.2 L1180.1 722.3 L1175.9 721.3 L1172.0 720.2 L1168.3 719.0 L1164.8 717.8 L1161.5 716.6 L1158.4 715.3 L1155.6 713.9 L1153.0 712.5 L1150.6 711.1 L1148.6 709.7 L1146.8 708.2 L1145.2 706.7 L1144.0 705.1 L1143.0 703.6 L1142.3 702.0 L1141.8 700.4 L1141.7 698.9 " stroke-width="3.4"/>
<path d="M1135.6 697 L1136.2 790 L1135 931.4" stroke-width="5.5"/>
<path d="M1354.8 697 L1354.8 926" stroke-width="5.5"/>
<path d="M1408.0 906.0 L1407.8 909.0 L1407.1 912.0 L1406.0 914.9 L1404.4 917.9 L1402.5 920.8 L1400.0 923.6 L1397.2 926.4 L1394.0 929.2 L1390.3 931.9 L1386.2 934.5 L1381.8 937.0 L1377.0 939.5 L1371.8 941.9 L1366.3 944.1 L1360.4 946.3 L1354.2 948.4 L1347.8 950.3 L1341.0 952.1 L1334.0 953.8 L1326.8 955.4 L1319.3 956.8 L1311.6 958.1 L1303.7 959.2 L1295.7 960.2 L1287.6 961.1 L1279.3 961.8 L1270.9 962.3 L1262.5 962.7 L1254.0 962.9 L1245.5 963.0 L1237.0 962.9 L1228.5 962.7 L1220.1 962.3 L1211.7 961.8 L1203.4 961.1 L1195.3 960.2 L1187.3 959.2 L1179.4 958.1 L1171.7 956.8 L1164.2 955.4 L1157.0 953.8 L1150.0 952.1 L1143.2 950.3 L1136.8 948.4 L1130.6 946.3 L1124.7 944.1 L1119.2 941.9 L1114.0 939.5 L1109.2 937.0 L1104.8 934.5 L1100.7 931.9 L1097.0 929.2 L1093.8 926.4 L1091.0 923.6 L1088.5 920.8 L1086.6 917.9 L1085.0 914.9 L1083.9 912.0 L1083.2 909.0 L1083.0 906.0 " stroke-width="4.6"/>
<path d="M1389.0 902.0 L1388.8 904.3 L1388.2 906.6 L1387.2 908.9 L1385.8 911.1 L1384.0 913.4 L1381.9 915.6 L1379.3 917.8 L1376.4 919.9 L1373.1 922.0 L1369.5 924.0 L1365.5 926.0 L1361.2 927.9 L1356.6 929.7 L1351.6 931.4 L1346.4 933.1 L1340.9 934.7 L1335.1 936.2 L1329.0 937.6 L1322.7 938.9 L1316.2 940.1 L1309.6 941.2 L1302.7 942.2 L1295.6 943.1 L1288.5 943.8 L1281.2 944.5 L1273.8 945.0 L1266.3 945.5 L1258.7 945.8 L1251.1 945.9 L1243.5 946.0 L1235.9 945.9 L1228.3 945.8 L1220.7 945.5 L1213.2 945.0 L1205.8 944.5 L1198.5 943.8 L1191.4 943.1 L1184.3 942.2 L1177.4 941.2 L1170.8 940.1 L1164.3 938.9 L1158.0 937.6 L1151.9 936.2 L1146.1 934.7 L1140.6 933.1 L1135.4 931.4 L1130.4 929.7 L1125.8 927.9 L1121.5 926.0 L1117.5 924.0 L1113.9 922.0 L1110.6 919.9 L1107.7 917.8 L1105.1 915.6 L1103.0 913.4 L1101.2 911.1 L1099.8 908.9 L1098.8 906.6 L1098.2 904.3 L1098.0 902.0 " stroke-width="3.6"/>
<path d="M1456.0 802.5 L1455.7 805.7 L1454.8 808.8 L1453.4 812.0 L1451.4 815.1 L1448.8 818.2 L1445.7 821.2 L1442.0 824.2 L1437.8 827.1 L1433.1 830.0 L1427.8 832.8 L1422.1 835.5 L1415.8 838.1 L1409.1 840.6 L1402.0 843.0 L1394.4 845.3 L1386.4 847.5 L1378.1 849.5 L1369.3 851.4 L1360.3 853.2 L1350.9 854.9 L1341.2 856.4 L1331.3 857.8 L1321.1 859.0 L1310.7 860.0 L1300.2 860.9 L1289.5 861.7 L1278.6 862.3 L1267.7 862.7 L1256.8 862.9 L1245.8 863.0 L1234.7 862.9 L1223.8 862.7 L1212.9 862.3 L1202.0 861.7 L1191.3 860.9 L1180.8 860.0 L1170.4 859.0 L1160.2 857.8 L1150.3 856.4 L1140.6 854.9 L1131.2 853.2 L1122.2 851.4 L1113.4 849.5 L1105.1 847.5 L1097.1 845.3 L1089.5 843.0 L1082.4 840.6 L1075.7 838.1 L1069.4 835.5 L1063.7 832.8 L1058.4 830.0 L1053.7 827.1 L1049.5 824.2 L1045.8 821.2 L1042.7 818.2 L1040.1 815.1 L1038.1 812.0 L1036.7 808.8 L1035.8 805.7 L1035.5 802.5 " stroke-width="4.2"/>
<path d="M824.0 739.4 C828.7 739.7 839.2 739.6 852.0 741.0 C864.8 742.4 882.0 748.3 901.0 747.8 C920.0 747.3 947.2 742.6 966.0 738.0 C984.8 733.4 1000.5 728.3 1014.0 720.0 C1027.5 711.7 1038.5 700.4 1046.7 688.0 C1054.9 675.6 1060.6 660.4 1063.0 645.7 C1065.4 631.0 1061.3 612.3 1061.0 600.0 C1060.7 587.7 1060.5 580.0 1061.0 572.0 C1061.5 564.0 1062.0 557.7 1064.0 552.0 C1066.0 546.3 1068.8 541.8 1073.0 538.0 C1077.2 534.2 1083.5 532.5 1089.0 529.5 C1094.5 526.5 1100.0 522.2 1106.0 520.0 C1112.0 517.8 1118.5 516.6 1125.0 516.0 C1131.5 515.4 1138.0 516.6 1145.0 516.5 C1152.0 516.4 1159.5 515.1 1167.0 515.5 C1174.5 515.9 1183.5 517.1 1190.0 519.0 C1196.5 520.9 1201.8 523.7 1206.0 527.0 C1210.2 530.3 1213.5 536.7 1215.0 538.6 " stroke-width="4.6"/>
<ellipse cx="1102.7" cy="552" rx="17" ry="23" transform="rotate(8 1102.7 552)" stroke-width="4.4"/>
<ellipse cx="1122" cy="544" rx="13.5" ry="26" transform="rotate(-8 1122 544)" stroke-width="4.4"/>
<ellipse cx="1148.7" cy="542.7" rx="12.6" ry="23.4" transform="rotate(0 1148.7 542.7)" stroke-width="4.4"/>
<ellipse cx="1180.7" cy="544.4" rx="17.8" ry="28" transform="rotate(-5 1180.7 544.4)" stroke-width="4.4"/>
<ellipse cx="1200" cy="549.8" rx="15" ry="29" transform="rotate(8 1200 549.8)" stroke-width="4.4"/>
<path d="M1215.0 538.6 C1217.2 539.1 1223.5 538.0 1228.0 541.6 C1232.5 545.2 1238.5 551.6 1242.0 560.0 C1245.5 568.4 1247.8 586.7 1249.0 592.0 " stroke-width="5.5"/>
<path d="M596.0 757.0 C594.0 757.1 587.6 757.8 584.0 757.4 C580.4 757.0 577.7 756.1 574.5 754.6 C571.3 753.1 569.0 750.1 565.0 748.4 C561.0 746.7 555.5 745.1 550.8 744.2 C546.1 743.3 540.6 742.9 536.7 743.2 C532.8 743.5 529.7 744.4 527.2 746.0 C524.7 747.6 522.9 750.2 521.6 752.7 C520.4 755.2 520.0 759.8 519.7 761.2 " stroke-width="4.6"/>
<path d="M519.7 761.2 C520.9 761.3 523.9 761.8 527.0 762.0 C530.1 762.2 534.9 761.2 538.6 762.6 C542.3 764.0 547.8 767.1 549.0 770.6 C550.2 774.1 547.4 781.4 546.0 783.8 C544.6 786.2 543.6 785.4 540.5 784.8 C537.4 784.2 530.5 782.2 527.2 780.0 C523.9 777.8 522.1 774.5 520.6 771.6 C519.1 768.7 518.9 764.0 518.5 762.5 " stroke-width="4.6"/>
<path d="M519.0 761.5 C517.2 762.2 511.0 763.7 508.3 766.0 C505.6 768.3 503.5 771.8 502.7 775.3 C501.9 778.8 502.8 783.4 503.6 786.7 C504.4 790.0 506.8 793.8 507.4 795.2 " stroke-width="4.6"/>
<path d="M507.4 795.2 C509.1 793.9 514.0 788.9 517.8 787.6 C521.6 786.3 527.0 786.3 530.0 787.6 C533.0 788.9 535.5 792.7 535.7 795.2 C535.9 797.7 534.0 801.6 531.0 802.7 C528.0 803.8 521.7 803.0 517.8 801.8 C513.9 800.5 509.1 796.3 507.4 795.2 " stroke-width="4.6"/>
<path d="M507.4 795.2 C506.8 796.9 503.0 802.3 503.6 805.6 C504.2 808.9 507.9 813.4 511.0 815.0 C514.1 816.6 518.5 815.8 522.5 815.0 C526.5 814.2 531.4 811.0 534.8 810.3 C538.2 809.5 540.8 810.0 543.0 810.5 C545.2 811.0 547.2 812.6 548.0 813.0 " stroke-width="4.6"/>
<circle cx="547" cy="814" r="3.5" stroke-width="1" fill="#1e1e1e"/>
<path d="M1082.0 714.5 C1076.1 714.9 1059.1 711.8 1046.7 717.0 C1034.3 722.2 1018.6 733.6 1007.8 746.0 C997.0 758.4 987.0 779.2 982.0 791.5 C977.0 803.8 978.7 811.9 977.5 820.0 C976.3 828.1 975.2 836.7 974.8 840.0 " stroke-width="4.6"/>
<path d="M774.7 1018.8 C774.2 1015.8 771.1 1006.6 772.0 1001.0 C772.9 995.4 775.5 990.7 780.0 985.4 C784.5 980.1 793.4 973.0 798.7 969.4 C804.0 965.8 809.8 964.9 812.0 964.0 " stroke-width="4.6"/>
<path d="M812.0 964.0 C812.0 961.8 809.8 956.0 812.0 950.7 C814.2 945.4 820.1 937.1 825.4 932.0 C830.7 926.9 839.1 922.2 844.0 920.0 C848.9 917.8 852.9 918.9 854.7 918.7 " stroke-width="4.6"/>
<path d="M854.7 918.7 C855.2 916.0 853.9 908.9 857.4 902.7 C860.9 896.5 869.8 885.9 876.0 881.4 C882.2 876.9 889.7 876.9 894.8 876.0 C899.9 875.1 904.8 876.0 906.8 876.0 " stroke-width="4.6"/>
<path d="M906.8 876.0 C907.5 872.9 907.0 864.1 910.8 857.4 C914.6 850.7 922.4 840.2 929.5 836.0 C936.6 831.8 946.8 832.0 953.5 832.0 C960.2 832.0 966.0 834.7 969.5 836.0 C973.0 837.3 973.9 839.3 974.8 840.0 " stroke-width="4.6"/>
<ellipse cx="790" cy="1030" rx="15.0" ry="8.5" transform="rotate(36.205103034556856 790 1030)" stroke-width="4.6"/>
<ellipse cx="829" cy="979.5" rx="19.0" ry="9.5" transform="rotate(42.357454705935275 829 979.5)" stroke-width="4.6"/>
<ellipse cx="872.5" cy="935" rx="21.0" ry="12.5" transform="rotate(42.48128150174005 872.5 935)" stroke-width="4.6"/>
<ellipse cx="926" cy="896.5" rx="23.0" ry="14.0" transform="rotate(46.875514052512344 926 896.5)" stroke-width="4.6"/>
<ellipse cx="987" cy="859" rx="19.0" ry="9.0" transform="rotate(57.295266422998054 987 859)" stroke-width="4.6"/>
<path d="M774.7 1018.8 C772.4 1019.5 765.7 1019.0 761.0 1022.8 C756.3 1026.6 750.0 1035.3 746.7 1041.5 C743.4 1047.7 742.8 1043.6 741.0 1060.0 C739.2 1076.4 739.0 1116.7 736.0 1140.0 C733.0 1163.3 730.3 1177.2 723.0 1200.0 C715.7 1222.8 710.0 1246.2 692.0 1277.0 C674.0 1307.8 644.8 1356.4 615.0 1384.6 C585.2 1412.8 554.0 1429.8 513.0 1446.0 C472.0 1462.2 411.8 1479.4 369.0 1482.0 C326.2 1484.6 298.7 1476.0 256.0 1461.5 C213.3 1447.0 147.2 1418.9 113.0 1395.0 C78.8 1371.1 64.9 1342.2 51.0 1318.0 C37.1 1293.8 33.3 1264.3 29.8 1250.0 C26.3 1235.7 29.1 1236.5 30.0 1232.0 C30.9 1227.5 34.3 1224.5 35.2 1223.0 " stroke-width="4.6"/>
<path d="M163.0 989.0 C157.9 988.4 141.1 985.4 132.4 985.4 C123.7 985.4 117.7 986.6 110.8 989.0 C103.9 991.4 96.4 995.3 91.0 999.8 C85.6 1004.3 81.6 1009.7 78.4 1016.0 C75.2 1022.3 73.1 1034.0 72.0 1037.6 " stroke-width="4.6"/>
<path d="M72.0 1037.6 C73.7 1037.8 77.3 1036.7 82.0 1038.5 C86.7 1040.3 96.4 1045.2 100.0 1048.4 C103.6 1051.6 104.5 1054.4 103.6 1057.4 C102.7 1060.4 98.2 1065.8 94.6 1066.4 C91.0 1067.0 85.3 1064.0 82.0 1061.0 C78.7 1058.0 76.5 1052.3 74.8 1048.4 C73.1 1044.5 72.5 1039.4 72.0 1037.6 " stroke-width="4.6"/>
<path d="M72.0 1037.6 C69.5 1039.1 60.8 1043.0 56.8 1046.6 C52.8 1050.2 49.1 1054.8 47.8 1059.0 C46.4 1063.2 48.1 1068.8 48.7 1071.8 C49.3 1074.8 51.0 1076.3 51.4 1077.2 " stroke-width="4.6"/>
<path d="M51.4 1077.2 C52.0 1076.6 52.0 1074.5 55.0 1073.6 C58.0 1072.7 64.9 1071.2 69.4 1071.8 C73.9 1072.4 79.6 1074.5 82.0 1077.2 C84.4 1079.9 84.4 1084.7 83.8 1088.0 C83.2 1091.3 82.0 1096.4 78.4 1097.0 C74.8 1097.6 66.4 1094.0 62.2 1091.6 C58.0 1089.2 55.0 1085.0 53.2 1082.6 C51.4 1080.2 51.7 1078.1 51.4 1077.2 " stroke-width="4.6"/>
<path d="M51.4 1077.2 C49.6 1078.4 43.6 1080.8 40.6 1084.4 C37.6 1088.0 34.6 1094.0 33.4 1098.8 C32.2 1103.6 32.2 1108.8 33.4 1113.0 C34.6 1117.2 39.4 1122.2 40.6 1124.0 " stroke-width="4.6"/>
<ellipse cx="59.5" cy="1128" rx="19.5" ry="11.5" transform="rotate(25 59.5 1128)" stroke-width="4.6"/>
<path d="M40.6 1124.0 C38.8 1125.8 32.5 1130.0 29.8 1134.8 C27.1 1139.6 25.0 1147.7 24.4 1152.8 C23.8 1157.9 25.0 1162.4 26.2 1165.4 C27.4 1168.4 30.7 1169.9 31.6 1170.8 " stroke-width="4.6"/>
<ellipse cx="51.5" cy="1175" rx="20" ry="12" transform="rotate(20 51.5 1175)" stroke-width="4.6"/>
<path d="M31.6 1170.8 C30.1 1172.6 24.7 1177.4 22.6 1181.6 C20.5 1185.8 19.3 1191.2 19.0 1196.0 C18.7 1200.8 18.1 1205.9 20.8 1210.4 C23.5 1214.9 32.8 1220.9 35.2 1223.0 " stroke-width="4.6"/>
<path d="M35.2 1223.0 C36.4 1221.5 39.4 1216.0 42.4 1214.0 C45.4 1212.0 48.6 1210.7 53.2 1211.3 C57.9 1211.9 68.2 1214.1 70.3 1217.6 C72.4 1221.0 68.0 1229.0 65.8 1232.0 C63.5 1235.0 61.6 1236.8 56.8 1235.6 C52.0 1234.4 40.6 1226.9 37.0 1224.8 C33.4 1222.7 35.5 1223.3 35.2 1223.0 " stroke-width="4.6"/>
</g>
</svg>
</body></html>
